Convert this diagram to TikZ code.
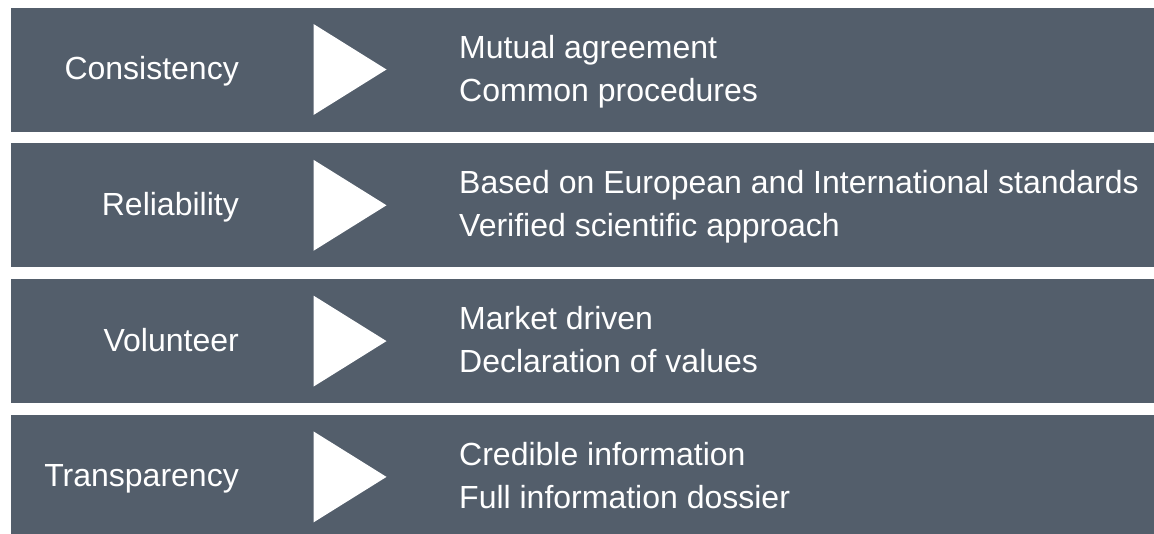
\documentclass[tikz,border=0pt]{standalone}
\usepackage{fontspec}
\setmainfont{Liberation Sans}
\definecolor{barcol}{RGB}{83,94,107}
\begin{document}
\begin{tikzpicture}[x=1pt,y=-1pt,
  barbox/.style={fill=barcol, draw=none, inner sep=0pt, minimum width=1150pt, minimum height=124pt, anchor=west},
  txt/.style={text=white, inner sep=0pt, font=\fontsize{32}{38}\selectfont},
  lab/.style={txt, anchor=base east},
  desc/.style={txt, anchor=base west},
  tri/.style={fill=white, draw=none}]
\useasboundingbox (0,0) rectangle (1154,533);
\clip (0,0) rectangle (1154,533);
\fill[white] (0,0) rectangle (1154,533);
\foreach \k/\lab/\da/\db in {
  0/Consistency/Mutual agreement/Common procedures,
  1/Reliability/Based on European and International standards/Verified scientific approach,
  2/Volunteer/Market driven/Declaration of values,
  3/Transparency/Credible information/Full information dossier}{
  \pgfmathsetmacro{\c}{69.5+135.8*\k}
  \node[barbox] (bar\k) at (11,\c) {};
  \fill[tri] (313.5,\c-45.5) -- (386.5,\c) -- (313.5,\c+45.5) -- cycle;
  \node[lab] (lab\k) at (239,\c+10) {\lab};
  \node[desc] (da\k) at (459,\c-11.5) {\da};
  \node[desc] (db\k) at (459,\c+31.5) {\db};
}
\end{tikzpicture}
\end{document}
